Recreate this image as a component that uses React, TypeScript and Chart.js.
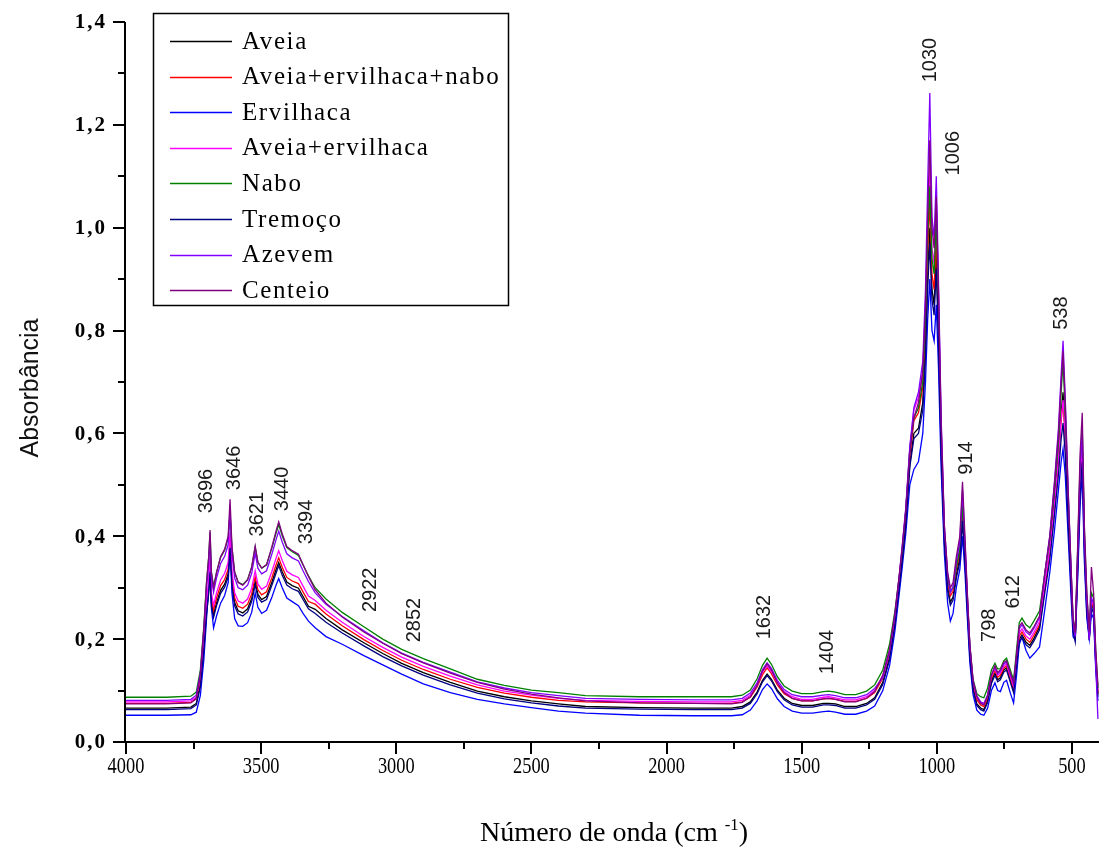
import { useEffect, useRef } from "react";
import { Chart, registerables } from "chart.js";

Chart.register(...registerables);

// Wavenumber grid (cm-1), shared by every spectrum
const wavenumbers = [
  4000, 3850, 3760, 3740, 3725, 3712, 3702, 3694, 3689, 3684, 3676, 3665, 3650, 3635, 3622, 3615, 3608, 3598, 3585, 3568,
  3550, 3535, 3522, 3512, 3498, 3480, 3460, 3445, 3435, 3422, 3405, 3385, 3362, 3345, 3325, 3300,
  3260, 3200, 3120, 3050, 2980, 2900, 2800, 2700, 2600, 2500, 2400, 2300, 2100, 1900, 1760,
  1720, 1690, 1665, 1645, 1628, 1612, 1590, 1565, 1535, 1500, 1460, 1420, 1400, 1375, 1340, 1300, 1260, 1230,
  1200, 1175, 1155, 1140, 1128, 1115, 1100, 1085, 1068, 1052, 1042, 1034, 1026, 1018, 1010, 1002, 994, 984, 972, 960,
  950, 940, 928, 915, 905, 896, 888, 878, 866, 852,
  838, 826, 812, 798, 785, 775, 765, 752, 742, 728, 716, 705, 695, 685, 670, 656, 640, 620, 600, 582,
  565, 550, 540, 533, 525, 515, 505, 496, 488, 478, 470, 462, 454, 445, 436, 428, 420, 412, 404,
];

const aveia = [
  0.066, 0.066, 0.068, 0.075, 0.111, 0.183, 0.255, 0.295, 0.336, 0.271, 0.247, 0.271, 0.295, 0.307, 0.327, 0.384, 0.311, 0.271, 0.255, 0.251,
  0.259, 0.279, 0.312, 0.287, 0.277, 0.283, 0.311, 0.335, 0.349, 0.331, 0.311, 0.304, 0.299, 0.283, 0.264, 0.258,
  0.240, 0.218, 0.193, 0.172, 0.153, 0.135, 0.116, 0.099, 0.088, 0.080, 0.074, 0.069, 0.067, 0.066, 0.066,
  0.069, 0.078, 0.097, 0.120, 0.132, 0.122, 0.101, 0.085, 0.075, 0.071, 0.071, 0.075, 0.075, 0.074, 0.069, 0.069, 0.075, 0.086,
  0.116, 0.164, 0.232, 0.300, 0.356, 0.425, 0.540, 0.600, 0.610, 0.660, 0.770, 0.910, 1.000, 0.880, 0.850, 0.950, 0.800, 0.570, 0.390, 0.300,
  0.272, 0.282, 0.325, 0.358, 0.440, 0.358, 0.272, 0.172, 0.105, 0.074,
  0.066, 0.063, 0.080, 0.118, 0.134, 0.121, 0.125, 0.140, 0.144, 0.120, 0.100, 0.152, 0.200, 0.208, 0.194, 0.188, 0.202, 0.224, 0.305, 0.375,
  0.470, 0.560, 0.640, 0.680, 0.600, 0.465, 0.335, 0.225, 0.200, 0.365, 0.510, 0.575, 0.385, 0.262, 0.198, 0.270, 0.258, 0.158, 0.093,
];

const aveiaErvilhacaNabo = [
  0.075, 0.075, 0.077, 0.084, 0.120, 0.192, 0.264, 0.304, 0.345, 0.280, 0.256, 0.280, 0.304, 0.316, 0.336, 0.393, 0.320, 0.280, 0.264, 0.260,
  0.268, 0.288, 0.321, 0.296, 0.286, 0.292, 0.320, 0.344, 0.358, 0.340, 0.320, 0.313, 0.308, 0.292, 0.273, 0.268,
  0.249, 0.226, 0.199, 0.178, 0.159, 0.141, 0.122, 0.106, 0.095, 0.087, 0.081, 0.078, 0.076, 0.075, 0.075,
  0.078, 0.087, 0.107, 0.131, 0.144, 0.133, 0.111, 0.094, 0.085, 0.080, 0.080, 0.084, 0.085, 0.083, 0.079, 0.079, 0.085, 0.096,
  0.124, 0.172, 0.240, 0.308, 0.366, 0.436, 0.555, 0.625, 0.640, 0.690, 0.800, 0.950, 1.050, 0.910, 0.880, 0.980, 0.820, 0.585, 0.400, 0.312,
  0.284, 0.293, 0.335, 0.368, 0.450, 0.368, 0.282, 0.180, 0.112, 0.082,
  0.072, 0.069, 0.086, 0.124, 0.139, 0.126, 0.130, 0.144, 0.148, 0.124, 0.104, 0.157, 0.206, 0.214, 0.200, 0.194, 0.208, 0.228, 0.302, 0.368,
  0.455, 0.545, 0.625, 0.660, 0.590, 0.460, 0.332, 0.225, 0.200, 0.360, 0.500, 0.570, 0.385, 0.265, 0.200, 0.275, 0.260, 0.160, 0.095,
];

const ervilhaca = [
  0.052, 0.052, 0.053, 0.058, 0.090, 0.160, 0.240, 0.300, 0.350, 0.260, 0.222, 0.245, 0.270, 0.285, 0.310, 0.378, 0.290, 0.240, 0.226, 0.225,
  0.232, 0.252, 0.290, 0.262, 0.250, 0.256, 0.282, 0.305, 0.318, 0.300, 0.280, 0.273, 0.265, 0.250, 0.235, 0.222,
  0.205, 0.190, 0.168, 0.150, 0.132, 0.113, 0.096, 0.083, 0.074, 0.067, 0.060, 0.056, 0.052, 0.051, 0.051,
  0.053, 0.062, 0.080, 0.102, 0.113, 0.104, 0.084, 0.069, 0.060, 0.056, 0.056, 0.059, 0.060, 0.058, 0.054, 0.054, 0.060, 0.070,
  0.100, 0.148, 0.216, 0.284, 0.340, 0.405, 0.500, 0.530, 0.545, 0.600, 0.700, 0.820, 0.900, 0.800, 0.780, 0.850, 0.730, 0.530, 0.365, 0.270,
  0.235, 0.250, 0.300, 0.335, 0.400, 0.330, 0.250, 0.155, 0.092, 0.062,
  0.054, 0.052, 0.066, 0.100, 0.115, 0.100, 0.098, 0.116, 0.120, 0.095, 0.076, 0.130, 0.190, 0.204, 0.178, 0.163, 0.172, 0.185, 0.260, 0.330,
  0.410, 0.490, 0.545, 0.570, 0.520, 0.410, 0.300, 0.205, 0.198, 0.330, 0.460, 0.520, 0.350, 0.240, 0.200, 0.250, 0.240, 0.140, 0.080,
];

const aveiaErvilhaca = [
  0.078, 0.078, 0.080, 0.087, 0.124, 0.199, 0.274, 0.315, 0.359, 0.290, 0.266, 0.290, 0.315, 0.328, 0.349, 0.408, 0.332, 0.290, 0.274, 0.270,
  0.278, 0.299, 0.333, 0.307, 0.297, 0.303, 0.332, 0.357, 0.372, 0.353, 0.332, 0.325, 0.320, 0.303, 0.284, 0.275,
  0.256, 0.233, 0.205, 0.184, 0.165, 0.147, 0.128, 0.111, 0.099, 0.091, 0.085, 0.081, 0.079, 0.078, 0.078,
  0.081, 0.091, 0.110, 0.136, 0.148, 0.137, 0.115, 0.098, 0.088, 0.083, 0.083, 0.087, 0.088, 0.086, 0.082, 0.082, 0.088, 0.100,
  0.128, 0.178, 0.246, 0.315, 0.375, 0.448, 0.570, 0.645, 0.670, 0.720, 0.840, 1.000, 1.120, 0.960, 0.930, 1.050, 0.870, 0.610, 0.410, 0.320,
  0.290, 0.300, 0.345, 0.380, 0.470, 0.380, 0.290, 0.185, 0.116, 0.086,
  0.076, 0.073, 0.090, 0.128, 0.143, 0.130, 0.134, 0.148, 0.152, 0.128, 0.108, 0.162, 0.212, 0.220, 0.206, 0.200, 0.214, 0.234, 0.310, 0.375,
  0.460, 0.550, 0.630, 0.665, 0.600, 0.470, 0.340, 0.230, 0.205, 0.370, 0.510, 0.580, 0.390, 0.270, 0.205, 0.280, 0.265, 0.165, 0.100,
];

const nabo = [
  0.087, 0.087, 0.089, 0.097, 0.140, 0.226, 0.311, 0.359, 0.408, 0.330, 0.302, 0.330, 0.359, 0.373, 0.397, 0.445, 0.378, 0.330, 0.311, 0.306,
  0.316, 0.340, 0.379, 0.349, 0.338, 0.344, 0.378, 0.406, 0.423, 0.401, 0.378, 0.370, 0.363, 0.344, 0.323, 0.300,
  0.278, 0.252, 0.224, 0.200, 0.180, 0.162, 0.142, 0.122, 0.110, 0.101, 0.096, 0.090, 0.088, 0.088, 0.088,
  0.091, 0.101, 0.123, 0.149, 0.163, 0.151, 0.127, 0.109, 0.099, 0.094, 0.094, 0.098, 0.099, 0.097, 0.092, 0.092, 0.099, 0.111,
  0.140, 0.190, 0.255, 0.318, 0.370, 0.450, 0.570, 0.630, 0.650, 0.700, 0.820, 0.980, 1.080, 0.940, 0.910, 1.020, 0.850, 0.600, 0.410, 0.320,
  0.292, 0.300, 0.340, 0.375, 0.460, 0.375, 0.290, 0.190, 0.122, 0.094,
  0.088, 0.086, 0.105, 0.140, 0.153, 0.142, 0.142, 0.158, 0.163, 0.140, 0.120, 0.180, 0.232, 0.241, 0.228, 0.222, 0.236, 0.255, 0.330, 0.395,
  0.490, 0.585, 0.680, 0.740, 0.640, 0.490, 0.355, 0.240, 0.215, 0.390, 0.540, 0.610, 0.410, 0.285, 0.215, 0.290, 0.280, 0.175, 0.105,
];

const tremoco = [
  0.063, 0.063, 0.065, 0.072, 0.107, 0.178, 0.249, 0.289, 0.330, 0.265, 0.242, 0.265, 0.289, 0.301, 0.321, 0.377, 0.305, 0.265, 0.249, 0.245,
  0.253, 0.273, 0.306, 0.281, 0.272, 0.277, 0.305, 0.328, 0.343, 0.324, 0.305, 0.298, 0.293, 0.277, 0.259, 0.250,
  0.233, 0.212, 0.187, 0.166, 0.148, 0.130, 0.111, 0.095, 0.084, 0.076, 0.070, 0.066, 0.064, 0.063, 0.063,
  0.066, 0.075, 0.094, 0.117, 0.129, 0.119, 0.098, 0.082, 0.072, 0.068, 0.068, 0.072, 0.072, 0.071, 0.066, 0.066, 0.072, 0.083,
  0.112, 0.160, 0.228, 0.296, 0.352, 0.420, 0.535, 0.590, 0.600, 0.645, 0.750, 0.880, 0.970, 0.860, 0.830, 0.920, 0.780, 0.560, 0.385, 0.295,
  0.266, 0.276, 0.318, 0.350, 0.430, 0.350, 0.266, 0.168, 0.102, 0.071,
  0.063, 0.060, 0.077, 0.114, 0.130, 0.117, 0.121, 0.136, 0.140, 0.116, 0.096, 0.148, 0.195, 0.203, 0.189, 0.183, 0.197, 0.218, 0.292, 0.355,
  0.440, 0.520, 0.590, 0.620, 0.560, 0.440, 0.320, 0.215, 0.195, 0.345, 0.480, 0.545, 0.365, 0.250, 0.205, 0.262, 0.250, 0.150, 0.088,
];

const azevem = [
  0.081, 0.081, 0.083, 0.091, 0.133, 0.217, 0.300, 0.347, 0.395, 0.319, 0.291, 0.319, 0.347, 0.361, 0.384, 0.451, 0.366, 0.319, 0.300, 0.296,
  0.305, 0.328, 0.367, 0.338, 0.327, 0.333, 0.366, 0.393, 0.410, 0.389, 0.366, 0.358, 0.352, 0.333, 0.312, 0.290,
  0.268, 0.244, 0.216, 0.193, 0.173, 0.155, 0.136, 0.117, 0.105, 0.096, 0.090, 0.085, 0.083, 0.082, 0.082,
  0.085, 0.095, 0.115, 0.141, 0.154, 0.143, 0.120, 0.102, 0.092, 0.088, 0.088, 0.091, 0.092, 0.090, 0.086, 0.086, 0.092, 0.104,
  0.125, 0.176, 0.246, 0.318, 0.382, 0.455, 0.575, 0.650, 0.680, 0.740, 0.880, 1.080, 1.262, 1.020, 0.980, 1.100, 0.900, 0.630, 0.420, 0.325,
  0.292, 0.302, 0.350, 0.390, 0.490, 0.390, 0.295, 0.188, 0.118, 0.090,
  0.078, 0.075, 0.092, 0.130, 0.146, 0.133, 0.138, 0.152, 0.155, 0.132, 0.112, 0.168, 0.220, 0.228, 0.214, 0.208, 0.222, 0.242, 0.330, 0.402,
  0.505, 0.610, 0.715, 0.780, 0.670, 0.505, 0.360, 0.235, 0.205, 0.380, 0.530, 0.600, 0.400, 0.275, 0.200, 0.280, 0.270, 0.150, 0.045,
];

const centeio = [
  0.074, 0.074, 0.076, 0.085, 0.130, 0.220, 0.310, 0.360, 0.412, 0.330, 0.300, 0.330, 0.360, 0.375, 0.400, 0.472, 0.380, 0.330, 0.310, 0.305,
  0.315, 0.340, 0.381, 0.350, 0.338, 0.345, 0.380, 0.410, 0.428, 0.405, 0.380, 0.372, 0.365, 0.345, 0.322, 0.296,
  0.270, 0.243, 0.214, 0.192, 0.172, 0.154, 0.134, 0.116, 0.103, 0.093, 0.086, 0.080, 0.076, 0.075, 0.074,
  0.077, 0.088, 0.110, 0.138, 0.152, 0.140, 0.115, 0.096, 0.085, 0.080, 0.080, 0.084, 0.085, 0.083, 0.078, 0.078, 0.085, 0.098,
  0.130, 0.180, 0.250, 0.320, 0.380, 0.450, 0.560, 0.630, 0.660, 0.720, 0.850, 1.020, 1.170, 1.000, 0.960, 1.060, 0.880, 0.620, 0.420, 0.330,
  0.300, 0.310, 0.360, 0.400, 0.506, 0.400, 0.300, 0.190, 0.120, 0.088,
  0.075, 0.072, 0.090, 0.130, 0.148, 0.135, 0.140, 0.155, 0.158, 0.135, 0.115, 0.170, 0.225, 0.232, 0.218, 0.212, 0.225, 0.245, 0.330, 0.400,
  0.500, 0.600, 0.700, 0.760, 0.660, 0.500, 0.360, 0.240, 0.212, 0.400, 0.560, 0.640, 0.420, 0.290, 0.215, 0.340, 0.290, 0.180, 0.110,
];

const seriesNames = [
  "Aveia",
  "Aveia+ervilhaca+nabo",
  "Ervilhaca",
  "Aveia+ervilhaca",
  "Nabo",
  "Tremoço",
  "Azevem",
  "Centeio",
];
const seriesValues = [aveia, aveiaErvilhacaNabo, ervilhaca, aveiaErvilhaca, nabo, tremoco, azevem, centeio];
const seriesColors = ["#000000", "#ff0000", "#0000ff", "#ff00ff", "#008000", "#000080", "#8000ff", "#800080"];

// Axis ticks
const xMajorTicks = [4000, 3500, 3000, 2500, 2000, 1500, 1000, 500];
const xMinorTicks = [3750, 3250, 2750, 2250, 1750, 1250, 750];
const yMajorTicks = [0, 0.2, 0.4, 0.6, 0.8, 1.0, 1.2, 1.4];
const yMinorTicks = [0.1, 0.3, 0.5, 0.7, 0.9, 1.1, 1.3];

// Band assignments written beside the peaks (text, wavenumber, absorbance)
const peakLabels = ["3696", "3646", "3621", "3440", "3394", "2922", "2852", "1632", "1404", "1030", "1006", "914", "798", "612", "538"];
const peakLabelX = [3701, 3597, 3512, 3420, 3331, 3094, 2932, 1638, 1405, 1025, 940, 892, 807, 718, 537];
const peakLabelY = [0.488, 0.533, 0.443, 0.492, 0.428, 0.296, 0.237, 0.243, 0.175, 1.326, 1.145, 0.552, 0.227, 0.292, 0.834];

const SERIF = "'Liberation Serif', 'Times New Roman', serif";

const decorations = {
  id: "ftirDecorations",
  afterDraw(chart: any) {
    const { ctx, chartArea } = chart;
    const xs = chart.scales.x;
    const ys = chart.scales.y;
    const left = chartArea.left;
    const bottom = chartArea.bottom;
    ctx.save();
    ctx.strokeStyle = "#000";
    ctx.fillStyle = "#000";

    // axis lines
    ctx.lineWidth = 2;
    ctx.beginPath();
    ctx.moveTo(left - 1, chartArea.top);
    ctx.lineTo(left - 1, bottom);
    ctx.lineTo(chartArea.right, bottom);
    ctx.stroke();

    // y ticks
    ctx.lineWidth = 2;
    ctx.beginPath();
    for (const v of yMajorTicks) {
      const y = Math.round(ys.getPixelForValue(v));
      ctx.moveTo(left - 13, y);
      ctx.lineTo(left - 1, y);
    }
    for (const v of yMinorTicks) {
      const y = Math.round(ys.getPixelForValue(v));
      ctx.moveTo(left - 8, y);
      ctx.lineTo(left - 1, y);
    }
    // x ticks
    for (const v of xMajorTicks) {
      const x = Math.round(xs.getPixelForValue(v));
      ctx.moveTo(x, bottom);
      ctx.lineTo(x, bottom + 12);
    }
    for (const v of xMinorTicks) {
      const x = Math.round(xs.getPixelForValue(v));
      ctx.moveTo(x, bottom);
      ctx.lineTo(x, bottom + 7);
    }
    ctx.stroke();

    // y tick labels
    ctx.font = `bold 21px ${SERIF}`;
    (ctx as any).letterSpacing = "2px";
    ctx.textAlign = "right";
    ctx.textBaseline = "middle";
    for (const v of yMajorTicks) {
      const y = ys.getPixelForValue(v);
      ctx.fillText(v.toFixed(1).replace(".", ","), left - 19, y + 1);
    }
    (ctx as any).letterSpacing = "0px";

    // x tick labels (condensed serif)
    ctx.font = `23px ${SERIF}`;
    ctx.textAlign = "center";
    ctx.textBaseline = "top";
    for (const v of xMajorTicks) {
      const x = xs.getPixelForValue(v);
      ctx.save();
      ctx.translate(x, bottom + 13);
      ctx.scale(0.8, 1);
      ctx.fillText(String(v), 0, 0);
      ctx.restore();
    }

    // x axis title with superscript
    ctx.save();
    ctx.translate(614, bottom + 99);
    ctx.scale(1.04, 1);
    ctx.textBaseline = "alphabetic";
    ctx.textAlign = "left";
    const mainFont = `27px ${SERIF}`;
    const supFont = `16px ${SERIF}`;
    const part1 = "Número de onda (cm ";
    const part2 = "-1";
    const part3 = ")";
    ctx.font = mainFont;
    const w1 = ctx.measureText(part1).width;
    const w3 = ctx.measureText(part3).width;
    ctx.font = supFont;
    const w2 = ctx.measureText(part2).width;
    const total = w1 + w2 + w3;
    let cx = -total / 2;
    ctx.font = mainFont;
    ctx.fillText(part1, cx, 0);
    cx += w1;
    ctx.font = supFont;
    ctx.fillText(part2, cx, -11);
    cx += w2;
    ctx.font = mainFont;
    ctx.fillText(part3, cx, 0);
    ctx.restore();

    // y axis title
    ctx.save();
    ctx.translate(31, 388);
    ctx.rotate(-Math.PI / 2);
    ctx.font = "25px 'Liberation Sans Narrow', 'Liberation Sans', sans-serif";
    ctx.textAlign = "center";
    ctx.textBaseline = "middle";
    ctx.fillStyle = "#111";
    ctx.fillText("Absorbância", 0, 0);
    ctx.restore();

    // peak annotations
    ctx.font = "20px 'Liberation Sans', Arial, sans-serif";
    ctx.fillStyle = "#1a1a1a";
    ctx.textAlign = "center";
    ctx.textBaseline = "middle";
    for (let i = 0; i < peakLabels.length; i++) {
      const x = xs.getPixelForValue(peakLabelX[i]);
      const y = ys.getPixelForValue(peakLabelY[i]);
      ctx.save();
      ctx.translate(x, y);
      ctx.rotate(-Math.PI / 2);
      ctx.fillText(peakLabels[i], 0, 0);
      ctx.restore();
    }

    // legend box
    const boxL = 153.5;
    const boxT = 13.5;
    const boxW = 355;
    const boxH = 292;
    ctx.fillStyle = "#fff";
    ctx.fillRect(boxL, boxT, boxW, boxH);
    ctx.lineWidth = 1.5;
    ctx.strokeStyle = "#000";
    ctx.strokeRect(boxL, boxT, boxW, boxH);
    ctx.font = `25px ${SERIF}`;
    (ctx as any).letterSpacing = "1.6px";
    ctx.textAlign = "left";
    ctx.textBaseline = "middle";
    chart.data.datasets.forEach((ds: any, i: number) => {
      const y = 41 + i * 35.6;
      ctx.strokeStyle = ds.borderColor;
      ctx.lineWidth = 1.5;
      ctx.beginPath();
      ctx.moveTo(170, Math.round(y) + 0.5);
      ctx.lineTo(232, Math.round(y) + 0.5);
      ctx.stroke();
      ctx.fillStyle = "#000";
      ctx.fillText(ds.label, 242, y + 1);
    });
    (ctx as any).letterSpacing = "0px";
    ctx.restore();
  },
};

export default function App() {
  const canvasRef = useRef<HTMLCanvasElement | null>(null);

  useEffect(() => {
    document.body.style.margin = "0";
    const canvas = canvasRef.current;
    if (!canvas) return;
    const datasets = seriesNames.map((name, i) => ({
      label: name,
      data: wavenumbers.map((w, j) => ({ x: w, y: seriesValues[i][j] })),
      borderColor: seriesColors[i],
      backgroundColor: seriesColors[i],
      borderWidth: 1.3,
      pointRadius: 0,
      tension: 0,
      fill: false,
      order: seriesNames.length - i,
    }));
    const chart = new Chart(canvas, {
      type: "line",
      data: { datasets },
      options: {
        animation: false,
        responsive: false,
        devicePixelRatio: 1,
        parsing: false as any,
        layout: { padding: { left: 126, top: 22, right: 0, bottom: 110 } },
        plugins: { legend: { display: false }, tooltip: { enabled: false } },
        scales: {
          x: { type: "linear", min: 400, max: 4000, reverse: true, display: false },
          y: { type: "linear", min: 0, max: 1.4, display: false },
        },
      },
      plugins: [decorations],
    });
    return () => chart.destroy();
  }, []);

  return (
    <div style={{ width: 1099, height: 852, background: "#fff" }}>
      <canvas ref={canvasRef} width={1099} height={852} style={{ display: "block" }} />
    </div>
  );
}
